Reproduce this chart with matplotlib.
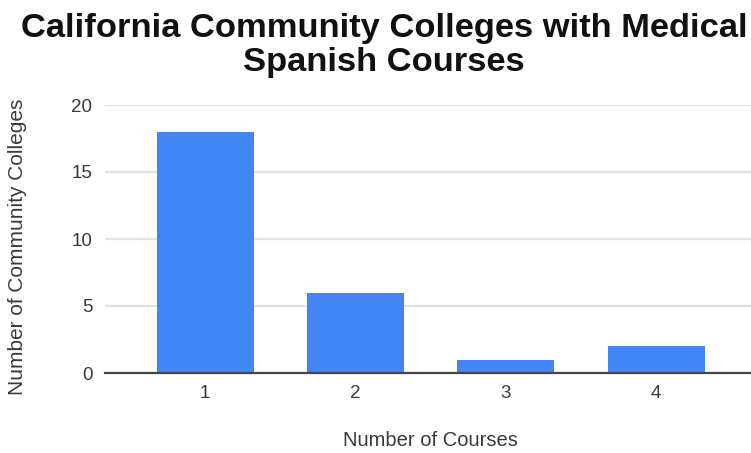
import matplotlib
matplotlib.use("Agg")
import matplotlib.pyplot as plt

categories = ["1", "2", "3", "4"]
values = [18, 6, 1, 2]
y_ticks = [0, 5, 10, 15, 20]

plt.rcParams['font.family'] = ['Liberation Sans', 'DejaVu Sans']

fig = plt.figure(figsize=(7.51, 4.53), dpi=100)
ax = fig.add_axes([105/751, 1-373/453, 1-105/751, (373-105)/453])

x = list(range(len(categories)))
ax.bar(x, values, width=0.645, color="#4285F4", zorder=3)
ax.set_xlim(-0.667, 3.63)
ax.set_ylim(0, 20)
ax.set_yticks(y_ticks)
ax.set_yticklabels([str(t) for t in y_ticks])
ax.set_xticks(x)
ax.set_xticklabels(categories)
ax.yaxis.grid(True, color="#e2e2e2", linewidth=1.6, zorder=0)
ax.set_axisbelow(True)
for s in ["top", "right", "left"]:
    ax.spines[s].set_visible(False)
ax.spines["bottom"].set_color("#444444")
ax.spines["bottom"].set_linewidth(1.6)
ax.spines["bottom"].set_zorder(4)
ax.tick_params(axis="both", length=0, labelsize=13.5, colors="#3a3a3a")
ax.tick_params(axis="y", pad=9)
ax.tick_params(axis="x", pad=9)

fig.text(430/751, 1-440/453, "Number of Courses", fontsize=14.5, color="#3a3a3a",
         ha="center", va="center")
fig.text(18/751, 1-247/453, "Number of Community Colleges", rotation=90,
         fontsize=15, color="#3a3a3a", ha="center", va="center")

fig.text(384/751, 1-29/453, "California Community Colleges with Medical",
         fontsize=24.8, fontweight="bold", ha="center", va="center", color="#111111")
fig.text(384/751, 1-62/453, "Spanish Courses",
         fontsize=24.8, fontweight="bold", ha="center", va="center", color="#111111")

fig.savefig("out.png", dpi=100)
